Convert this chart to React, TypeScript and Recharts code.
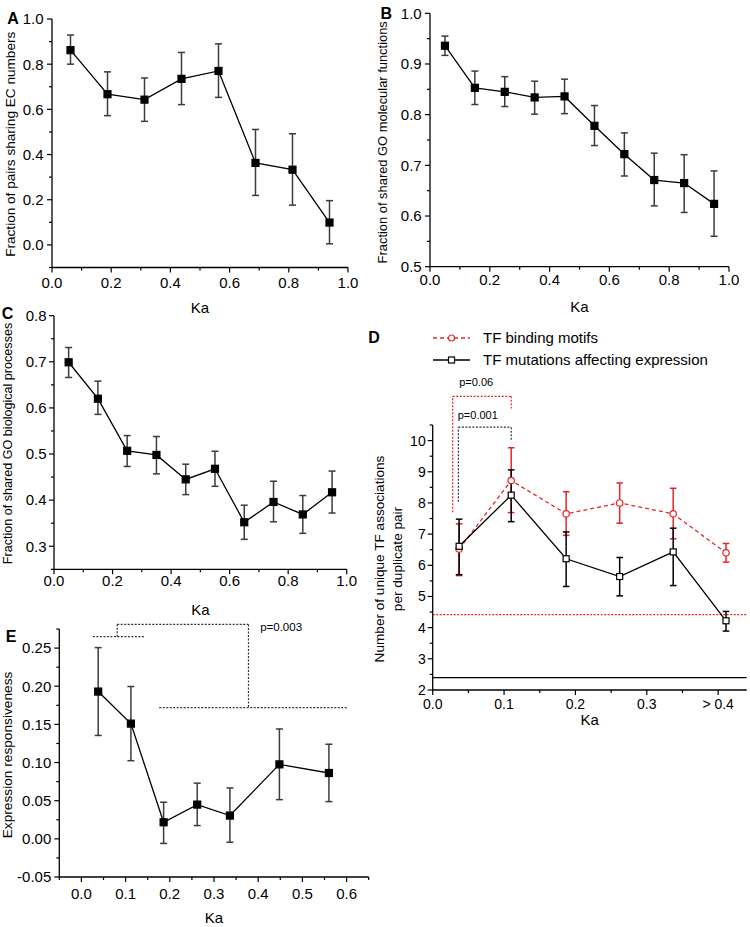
import React from 'react';
import { LineChart, Line, XAxis, YAxis, ErrorBar, ReferenceLine, Legend } from 'recharts';

const FONT = '"Liberation Sans", Arial, Helvetica, sans-serif';
const RED = '#e3262b';
const ERR_GREY = '#3c3c3c';

// ---------- Panel A ----------
const A_KA = [0.0625, 0.1875, 0.3125, 0.4375, 0.5625, 0.6875, 0.8125, 0.9375];
const A_VAL = [0.862, 0.667, 0.643, 0.735, 0.77, 0.363, 0.333, 0.099];
const A_LOW = [0.8, 0.572, 0.547, 0.621, 0.653, 0.219, 0.176, 0.005];
const A_HIGH = [0.929, 0.766, 0.739, 0.852, 0.89, 0.511, 0.492, 0.196];
const A_X_TICKS = [0, 0.1, 0.2, 0.3, 0.4, 0.5, 0.6, 0.7, 0.8, 0.9, 1.0];
const A_X_LABELS = ['0.0', '', '0.2', '', '0.4', '', '0.6', '', '0.8', '', '1.0'];
const A_Y_TICKS = [-0.1, 0, 0.1, 0.2, 0.3, 0.4, 0.5, 0.6, 0.7, 0.8, 0.9, 1.0];
const A_Y_LABELS = ['', '0.0', '', '0.2', '', '0.4', '', '0.6', '', '0.8', '', '1.0'];

// ---------- Panel B ----------
const B_KA = [0.05, 0.15, 0.25, 0.35, 0.45, 0.55, 0.65, 0.75, 0.85, 0.95];
const B_VAL = [0.936, 0.853, 0.845, 0.834, 0.836, 0.778, 0.722, 0.671, 0.665, 0.624];
const B_LOW = [0.917, 0.82, 0.816, 0.801, 0.802, 0.739, 0.679, 0.62, 0.607, 0.56];
const B_HIGH = [0.955, 0.886, 0.875, 0.866, 0.87, 0.818, 0.764, 0.724, 0.721, 0.689];
const B_Y_TICKS = [0.5, 0.55, 0.6, 0.65, 0.7, 0.75, 0.8, 0.85, 0.9, 0.95, 1.0];
const B_Y_LABELS = ['0.5', '', '0.6', '', '0.7', '', '0.8', '', '0.9', '', '1.0'];

// ---------- Panel C ----------
const C_KA = [0.05, 0.15, 0.25, 0.35, 0.45, 0.55, 0.65, 0.75, 0.85, 0.95];
const C_VAL = [0.699, 0.62, 0.507, 0.498, 0.445, 0.468, 0.352, 0.396, 0.369, 0.417];
const C_LOW = [0.666, 0.586, 0.473, 0.457, 0.412, 0.43, 0.315, 0.353, 0.328, 0.372];
const C_HIGH = [0.731, 0.658, 0.54, 0.538, 0.478, 0.506, 0.389, 0.441, 0.41, 0.463];
const C_Y_TICKS = [0.25, 0.3, 0.35, 0.4, 0.45, 0.5, 0.55, 0.6, 0.65, 0.7, 0.75, 0.8];
const C_Y_LABELS = ['', '0.3', '', '0.4', '', '0.5', '', '0.6', '', '0.7', '', '0.8'];

// ---------- Panel D ----------
const D_KA = [0.037, 0.11, 0.187, 0.262, 0.337, 0.411];
const D_MOTIF = [6.52, 8.72, 7.65, 8.0, 7.65, 6.4];
const D_MOTIF_LOW = [5.67, 7.69, 6.96, 7.35, 6.85, 6.1];
const D_MOTIF_HIGH = [7.33, 9.77, 8.36, 8.64, 8.47, 6.7];
const D_MUT = [6.61, 8.25, 6.21, 5.64, 6.43, 4.22];
const D_MUT_LOW = [5.7, 7.4, 5.32, 5.02, 5.35, 3.89];
const D_MUT_HIGH = [7.48, 9.06, 7.07, 6.25, 7.19, 4.52];
const D_MOTIF_BASELINE = 4.42;
const D_MUT_BASELINE = 2.4;
const D_SERIES = ['TF binding motifs', 'TF mutations affecting expression'];
const D_X_TICKS = [0, 0.05, 0.1, 0.15, 0.2, 0.25, 0.3, 0.35, 0.4];
const D_X_LABELS = ['0.0', '', '0.1', '', '0.2', '', '0.3', '', '> 0.4'];
const D_Y_TICKS = [2, 2.5, 3, 3.5, 4, 4.5, 5, 5.5, 6, 6.5, 7, 7.5, 8, 8.5, 9, 9.5, 10, 10.5];
const D_Y_LABELS = ['2', '', '3', '', '4', '', '5', '', '6', '', '7', '', '8', '', '9', '', '10', ''];
const D_Y_TITLE = ['Number of unique TF associations', 'per duplicate pair'];
// significance brackets (data coordinates)
const D_BRACKET_MOTIF = { x1: 0.028, x2: 0.11, yLow: 7.7, yTop: 11.42, yEnd: 11.03, text: 'p=0.06' };
const D_BRACKET_MUT = { x1: 0.036, x2: 0.11, yLow: 8.04, yTop: 10.43, yEnd: 10.03, text: 'p=0.001' };

// ---------- Panel E ----------
const E_KA = [0.038, 0.112, 0.186, 0.262, 0.336, 0.448, 0.56];
const E_VAL = [0.193, 0.151, 0.0217, 0.0449, 0.0305, 0.0976, 0.0863];
const E_LOW = [0.1355, 0.1024, -0.006, 0.0174, -0.0044, 0.0514, 0.0488];
const E_HIGH = [0.2506, 0.1996, 0.048, 0.073, 0.0667, 0.144, 0.124];
const E_X_TICKS = [-0.05, 0, 0.05, 0.1, 0.15, 0.2, 0.25, 0.3, 0.35, 0.4, 0.45, 0.5, 0.55, 0.6, 0.65];
const E_X_LABELS = ['', '0.0', '', '0.1', '', '0.2', '', '0.3', '', '0.4', '', '0.5', '', '0.6', ''];
const E_Y_TICKS = [-0.05, -0.025, 0, 0.025, 0.05, 0.075, 0.1, 0.125, 0.15, 0.175, 0.2, 0.225, 0.25, 0.275];
const E_Y_LABELS = ['-0.05', '', '0.00', '', '0.05', '', '0.10', '', '0.15', '', '0.20', '', '0.25', ''];
const E_BRACKET = {
  leftA: 0.026, leftB: 0.144, leftY: 0.265,
  stemX: 0.081, topY: 0.281, rightX: 0.378,
  rightA: 0.176, rightB: 0.6, rightY: 0.172,
  text: 'p=0.003',
};

const PANEL_LETTERS = [
  { t: 'A', x: 13, y: 24.4 },
  { t: 'B', x: 386.2, y: 19 },
  { t: 'C', x: 7.5, y: 319 },
  { t: 'D', x: 374, y: 342.7 },
  { t: 'E', x: 11, y: 641.7 },
];

const build = (ka: number[], v: number[], lo: number[], hi: number[]) =>
  ka.map((k, i) => ({ ka: k, v: v[i], err: [v[i] - lo[i], hi[i] - v[i]] }));

const dData = D_KA.map((k, i) => ({
  ka: k,
  motif: D_MOTIF[i],
  motifErr: [D_MOTIF[i] - D_MOTIF_LOW[i], D_MOTIF_HIGH[i] - D_MOTIF[i]],
  mut: D_MUT[i],
  mutErr: [D_MUT[i] - D_MUT_LOW[i], D_MUT_HIGH[i] - D_MUT[i]],
}));

function xTick(labels: string[], fontSize: number, labelDy: number) {
  return (props: any) => {
    const { x, y, index } = props;
    const label = labels[index] ?? '';
    const len = label ? 5 : 3;
    return (
      <g key={`xt-${index}`}>
        <line x1={x} y1={y} x2={x} y2={y + len} stroke="#000" strokeWidth={1.2} />
        {label ? (
          <text x={x} y={y + labelDy} textAnchor="middle" fontSize={fontSize} fontFamily={FONT} fill="#000">
            {label}
          </text>
        ) : null}
      </g>
    );
  };
}

function yTick(labels: string[], fontSize: number, gap: number) {
  return (props: any) => {
    const { x, y, index } = props;
    const label = labels[index] ?? '';
    const len = label ? 5 : 3;
    return (
      <g key={`yt-${index}`}>
        <line x1={x} y1={y} x2={x - len} y2={y} stroke="#000" strokeWidth={1.2} />
        {label ? (
          <text x={x - gap} y={y + fontSize * 0.355} textAnchor="end" fontSize={fontSize} fontFamily={FONT} fill="#000">
            {label}
          </text>
        ) : null}
      </g>
    );
  };
}

const kaLabel = (dy: number) => (p: any) => {
  const vb = p.viewBox || { x: 0, y: 0, width: 0 };
  return (
    <text x={vb.x + vb.width / 2} y={vb.y + dy} textAnchor="middle" fontSize={15} fontFamily={FONT} fill="#000">
      Ka
    </text>
  );
};

const yTitle = (lines: string[], xs: number[], shift: number, fontSize: number) => (p: any) => {
  const vb = p.viewBox || { x: 0, y: 0, height: 0 };
  const cy = vb.y + vb.height / 2 + shift;
  return (
    <g>
      {lines.map((t, i) => {
        const cx = vb.x + xs[i];
        return (
          <text
            key={i}
            x={cx}
            y={cy}
            dy="0.35em"
            transform={`rotate(-90 ${cx} ${cy})`}
            textAnchor="middle"
            fontSize={fontSize}
            fontFamily={FONT}
            fill="#000"
          >
            {t}
          </text>
        );
      })}
    </g>
  );
};

const squareDot = (size: number, fill: string, stroke: string) => (props: any) => {
  const { cx, cy, index } = props;
  if (cx == null || cy == null) return <g key={`sq-${index}`} />;
  return (
    <rect
      key={`sq-${index}`}
      x={cx - size / 2}
      y={cy - size / 2}
      width={size}
      height={size}
      fill={fill}
      stroke={stroke}
      strokeWidth={1.2}
    />
  );
};

const circleDot = (r: number, stroke: string) => (props: any) => {
  const { cx, cy, index } = props;
  if (cx == null || cy == null) return <g key={`ci-${index}`} />;
  return <circle key={`ci-${index}`} cx={cx} cy={cy} r={r} fill="#fff" stroke={stroke} strokeWidth={1.2} />;
};

const AXIS_LINE = { stroke: '#000', strokeWidth: 1.3 };

type PanelProps = {
  left: number;
  top: number;
  width: number;
  height: number;
  margin: { top: number; right: number; left: number; bottom: number };
  yAxisWidth: number;
  xAxisHeight: number;
  data: any[];
  xDomain: [number, number];
  xTicks: number[];
  xLabels: string[];
  yDomain: [number, number];
  yTicks: number[];
  yLabels: string[];
  title: string;
  titleX: number;
  titleShift: number;
  titleFont: number;
  kaDy: number;
  xLabelDy: number;
  yGap: number;
  tickFont: number;
  children?: React.ReactNode;
};

function Panel(p: PanelProps) {
  return (
    <div style={{ position: 'absolute', left: p.left, top: p.top, width: p.width, height: p.height }}>
      <LineChart width={p.width} height={p.height} data={p.data} margin={p.margin} style={{ fontFamily: FONT }}>
        <XAxis
          dataKey="ka"
          type="number"
          domain={p.xDomain}
          ticks={p.xTicks}
          interval={0}
          allowDataOverflow
          tickLine={false}
          tickSize={0}
          tickMargin={0}
          axisLine={AXIS_LINE}
          height={p.xAxisHeight}
          tick={xTick(p.xLabels, p.tickFont, p.xLabelDy)}
          label={kaLabel(p.kaDy)}
        />
        <YAxis
          type="number"
          domain={p.yDomain}
          ticks={p.yTicks}
          interval={0}
          allowDataOverflow
          tickLine={false}
          tickSize={0}
          tickMargin={0}
          axisLine={AXIS_LINE}
          width={p.yAxisWidth}
          tick={yTick(p.yLabels, p.tickFont, p.yGap)}
          label={yTitle([p.title], [p.titleX], p.titleShift, p.titleFont)}
        />
        {p.children}
        <Line
          dataKey="v"
          type="linear"
          stroke="#000"
          strokeWidth={1.3}
          dot={squareDot(7, '#000', '#000')}
          activeDot={false}
          isAnimationActive={false}
        >
          <ErrorBar dataKey="err" width={3.5} stroke={ERR_GREY} strokeWidth={1.5} isAnimationActive={false} />
        </Line>
      </LineChart>
    </div>
  );
}

function DLegend() {
  return (
    <div style={{ fontFamily: FONT, fontSize: 15, color: '#000' }}>
      {D_SERIES.map((name, i) => (
        <div key={name} style={{ display: 'flex', alignItems: 'center', height: 22.3, whiteSpace: 'nowrap' }}>
          <svg width={50} height={14} style={{ display: 'block' }}>
            {i === 0 ? (
              <g>
                <line x1={0} y1={7} x2={37} y2={7} stroke={RED} strokeWidth={1.3} strokeDasharray="4 3" />
                <circle cx={18.5} cy={7} r={3} fill="#fff" stroke={RED} strokeWidth={1.2} />
              </g>
            ) : (
              <g>
                <line x1={0} y1={7} x2={37} y2={7} stroke="#000" strokeWidth={1.3} />
                <rect x={15.5} y={4} width={6} height={6} fill="#fff" stroke="#000" strokeWidth={1.2} />
              </g>
            )}
          </svg>
          <span style={{ lineHeight: '15px' }}>{name}</span>
        </div>
      ))}
    </div>
  );
}

const seg = (x1: number, y1: number, x2: number, y2: number) => [
  { x: x1, y: y1 },
  { x: x2, y: y2 },
];

function PanelD() {
  const W = 380;
  const H = 410;
  const bm = D_BRACKET_MOTIF;
  const bb = D_BRACKET_MUT;
  const pText = (text: string, dx: number, up: number, color: string) => (p: any) => {
    const vb = p.viewBox || { x: 0, y: 0, width: 0 };
    return (
      <text x={vb.x + vb.width / 2 + dx} y={vb.y - up} textAnchor="middle" fontSize={11} fontFamily={FONT} fill={color}>
        {text}
      </text>
    );
  };
  return (
    <div style={{ position: 'absolute', left: 370, top: 320, width: W, height: H }}>
      <LineChart width={W} height={H} data={dData} margin={{ top: 105, right: 3.3, left: 0, bottom: 0 }} style={{ fontFamily: FONT }}>
        <XAxis
          dataKey="ka"
          type="number"
          domain={[0, 0.44]}
          ticks={D_X_TICKS}
          interval={0}
          allowDataOverflow
          tickLine={false}
          tickSize={0}
          tickMargin={0}
          axisLine={AXIS_LINE}
          height={40}
          tick={xTick(D_X_LABELS, 14, 18.8)}
          label={kaLabel(35.4)}
        />
        <YAxis
          type="number"
          domain={[2, 10.5]}
          ticks={D_Y_TICKS}
          interval={0}
          allowDataOverflow
          tickLine={false}
          tickSize={0}
          tickMargin={0}
          axisLine={AXIS_LINE}
          width={62.7}
          tick={yTick(D_Y_LABELS, 14, 7)}
          label={yTitle(D_Y_TITLE, [9.6, 26.9], 1.5, 13.6)}
        />
        <ReferenceLine y={D_MOTIF_BASELINE} stroke={RED} strokeWidth={1.3} strokeDasharray="2 1.5" />
        <ReferenceLine y={D_MUT_BASELINE} stroke="#000" strokeWidth={1.3} />
        {/* p=0.06 bracket (motifs) */}
        <ReferenceLine segment={seg(bm.x1, bm.yLow, bm.x1, bm.yTop)} ifOverflow="visible" stroke={RED} strokeWidth={1.2} strokeDasharray="2 1.5" />
        <ReferenceLine
          segment={seg(bm.x1, bm.yTop, bm.x2, bm.yTop)}
          ifOverflow="visible"
          stroke={RED}
          strokeWidth={1.2}
          strokeDasharray="2 1.5"
          label={pText(bm.text, -5.7, 10, '#000')}
        />
        <ReferenceLine segment={seg(bm.x2, bm.yTop, bm.x2, bm.yEnd)} ifOverflow="visible" stroke={RED} strokeWidth={1.2} strokeDasharray="2 1.5" />
        {/* p=0.001 bracket (mutations) */}
        <ReferenceLine segment={seg(bb.x1, bb.yLow, bb.x1, bb.yTop)} ifOverflow="visible" stroke="#333" strokeWidth={1.2} strokeDasharray="2 1.5" />
        <ReferenceLine
          segment={seg(bb.x1, bb.yTop, bb.x2, bb.yTop)}
          ifOverflow="visible"
          stroke="#333"
          strokeWidth={1.2}
          strokeDasharray="2 1.5"
          label={pText(bb.text, -7, 8.5, '#000')}
        />
        <ReferenceLine segment={seg(bb.x2, bb.yTop, bb.x2, bb.yEnd)} ifOverflow="visible" stroke="#333" strokeWidth={1.2} strokeDasharray="2 1.5" />
        <Line
          dataKey="motif"
          name={D_SERIES[0]}
          type="linear"
          stroke={RED}
          strokeWidth={1.3}
          strokeDasharray="4 3"
          dot={circleDot(3.2, RED)}
          activeDot={false}
          isAnimationActive={false}
        >
          <ErrorBar dataKey="motifErr" width={3.3} stroke={RED} strokeWidth={1.5} isAnimationActive={false} />
        </Line>
        <Line
          dataKey="mut"
          name={D_SERIES[1]}
          type="linear"
          stroke="#000"
          strokeWidth={1.3}
          dot={squareDot(6, '#fff', '#000')}
          activeDot={false}
          isAnimationActive={false}
        >
          <ErrorBar dataKey="mutErr" width={3.3} stroke="#000" strokeWidth={1.5} isAnimationActive={false} />
        </Line>
        <Legend
          layout="vertical"
          align="center"
          verticalAlign="middle"
          content={() => <DLegend />}
          wrapperStyle={{ left: 63, top: 6.5, width: 310 }}
        />
      </LineChart>
    </div>
  );
}

function eBracket() {
  const b = E_BRACKET;
  const st = { stroke: '#333', strokeWidth: 1.2, strokeDasharray: '2 1.5' };
  const pLabel = (p: any) => {
    const vb = p.viewBox || { x: 0, y: 0, width: 0 };
    return (
      <text x={vb.x + vb.width + 11.7} y={vb.y + 6.5} textAnchor="start" fontSize={11.5} fontFamily={FONT} fill="#000">
        {b.text}
      </text>
    );
  };
  return [
    <ReferenceLine key="e1" segment={seg(b.leftA, b.leftY, b.leftB, b.leftY)} ifOverflow="visible" {...st} />,
    <ReferenceLine key="e2" segment={seg(b.stemX, b.leftY, b.stemX, b.topY)} ifOverflow="visible" {...st} />,
    <ReferenceLine key="e3" segment={seg(b.stemX, b.topY, b.rightX, b.topY)} ifOverflow="visible" {...st} label={pLabel} />,
    <ReferenceLine key="e4" segment={seg(b.rightX, b.topY, b.rightX, b.rightY)} ifOverflow="visible" {...st} />,
    <ReferenceLine key="e5" segment={seg(b.rightA, b.rightY, b.rightB, b.rightY)} ifOverflow="visible" {...st} />,
  ];
}

export default function App() {
  return (
    <div style={{ position: 'absolute', left: 0, top: 0, width: 750, height: 927, background: '#fff', overflow: 'hidden' }}>
      <Panel
        left={0}
        top={0}
        width={375}
        height={315}
        margin={{ top: 19, right: 27, left: 0, bottom: 0 }}
        yAxisWidth={52}
        xAxisHeight={47.5}
        data={build(A_KA, A_VAL, A_LOW, A_HIGH)}
        xDomain={[0, 1]}
        xTicks={A_X_TICKS}
        xLabels={A_X_LABELS}
        yDomain={[-0.1, 1.0]}
        yTicks={A_Y_TICKS}
        yLabels={A_Y_LABELS}
        title="Fraction of pairs sharing EC numbers"
        titleX={10}
        titleShift={1}
        titleFont={13.6}
        kaDy={45.9}
        xLabelDy={20.6}
        yGap={8.5}
        tickFont={15}
      />
      <Panel
        left={375}
        top={0}
        width={375}
        height={315}
        margin={{ top: 13.3, right: 21, left: 0, bottom: 0 }}
        yAxisWidth={55}
        xAxisHeight={48.3}
        data={build(B_KA, B_VAL, B_LOW, B_HIGH)}
        xDomain={[0, 1]}
        xTicks={A_X_TICKS}
        xLabels={A_X_LABELS}
        yDomain={[0.5, 1.0]}
        yTicks={B_Y_TICKS}
        yLabels={B_Y_LABELS}
        title="Fraction of shared GO molecular functions"
        titleX={7.8}
        titleShift={2.3}
        titleFont={12.9}
        kaDy={45.7}
        xLabelDy={18}
        yGap={8.3}
        tickFont={15}
      />
      <Panel
        left={0}
        top={300}
        width={375}
        height={320}
        margin={{ top: 15.7, right: 28.3, left: 0, bottom: 0 }}
        yAxisWidth={54}
        xAxisHeight={50.7}
        data={build(C_KA, C_VAL, C_LOW, C_HIGH)}
        xDomain={[0, 1]}
        xTicks={A_X_TICKS}
        xLabels={A_X_LABELS}
        yDomain={[0.25, 0.8]}
        yTicks={C_Y_TICKS}
        yLabels={C_Y_LABELS}
        title="Fraction of shared GO biological processes"
        titleX={7.3}
        titleShift={1}
        titleFont={12.6}
        kaDy={46}
        xLabelDy={17}
        yGap={7.5}
        tickFont={15}
      />
      <PanelD />
      <Panel
        left={0}
        top={615}
        width={375}
        height={312}
        margin={{ top: 14, right: 6.3, left: 0, bottom: 0 }}
        yAxisWidth={59.3}
        xAxisHeight={50}
        data={build(E_KA, E_VAL, E_LOW, E_HIGH)}
        xDomain={[-0.05, 0.65]}
        xTicks={E_X_TICKS}
        xLabels={E_X_LABELS}
        yDomain={[-0.05, 0.275]}
        yTicks={E_Y_TICKS}
        yLabels={E_Y_LABELS}
        title="Expression responsiveness"
        titleX={7.3}
        titleShift={2}
        titleFont={13.7}
        kaDy={45.7}
        xLabelDy={22}
        yGap={8}
        tickFont={15}
      >
        {eBracket()}
      </Panel>
      <svg width={750} height={927} style={{ position: 'absolute', left: 0, top: 0, pointerEvents: 'none' }}>
        {PANEL_LETTERS.map((l) => (
          <text key={l.t} x={l.x} y={l.y} textAnchor="middle" fontSize={16} fontWeight="bold" fontFamily={FONT} fill="#000">
            {l.t}
          </text>
        ))}
      </svg>
    </div>
  );
}
